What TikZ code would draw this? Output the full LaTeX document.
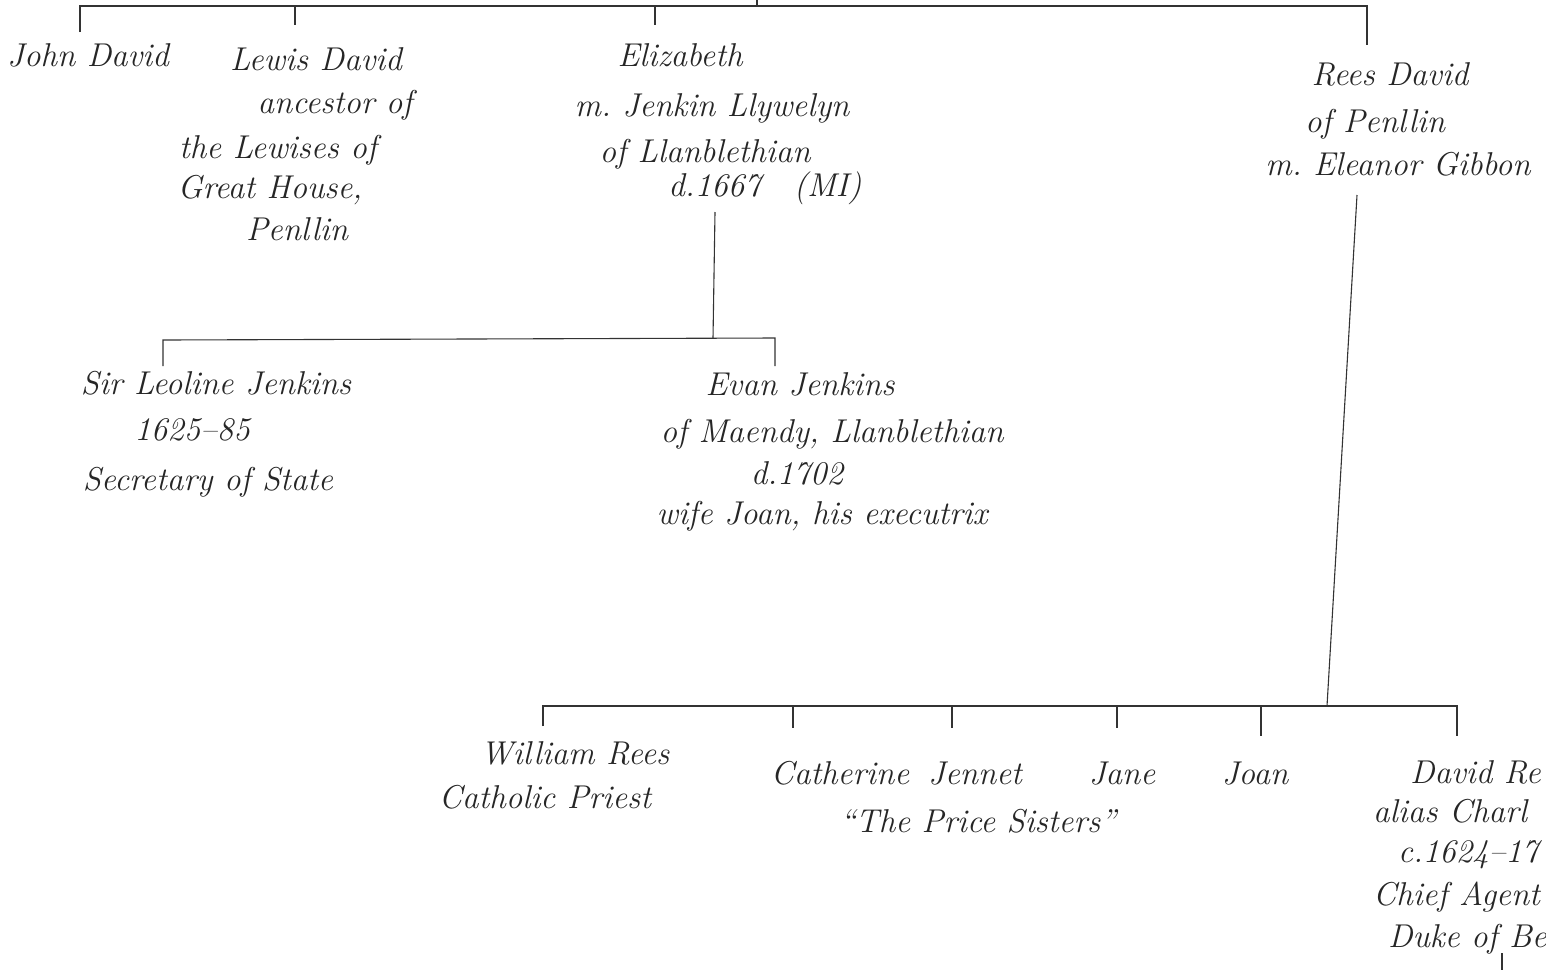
\documentclass[tikz,border=0pt]{standalone}
\usepackage{fontspec}
\begin{document}
\begin{tikzpicture}[x=1pt,y=-1pt,
  hand/.style={anchor=base, inner sep=0pt, text=black!85, font=\fontsize{33}{38}\selectfont\itshape},
  handw/.style={hand, anchor=base west},
  tree/.style={draw=black!80, line width=1.1pt}]
\useasboundingbox (0,0) rectangle (1546,970);
\fill[white] (0,0) rectangle (1546,970);

% ---- generation 1 ----
\node[hand] (john) at (88,66) {John David};
\node[hand] (lewis) at (316,70) {Lewis David};
\node[hand] (lewis2) at (335,113) {ancestor of};
\node[hand] (lewis3) at (278,158) {the Lewises of};
\node[hand] (lewis4) at (270,198) {Great House,};
\node[hand] (lewis5) at (297,240) {Penllin};
\node[hand] (eliz) at (680,66) {Elizabeth};
\node[hand] (eliz2) at (712,116) {m.\ Jenkin Llywelyn};
\node[hand] (eliz3) at (705,162) {of Llanblethian};
\node[hand] (eliz4) at (765,196) {d.1667\quad(MI)};
\node[hand] (rees) at (1390,85) {Rees David};
\node[hand] (rees2) at (1375,132) {of Penllin};
\node[hand] (rees3) at (1398,175) {m.\ Eleanor Gibbon};

% ---- generation 2 (Elizabeth) ----
\node[hand] (leol) at (216,394) {Sir Leoline Jenkins};
\node[hand] (leol2) at (192,440) {1625--85};
\node[hand] (leol3) at (208,490) {Secretary of State};
\node[hand] (evan) at (800,395) {Evan Jenkins};
\node[hand] (evan2) at (832,442) {of Maendy, Llanblethian};
\node[hand] (evan3) at (797,484) {d.1702};
\node[hand] (evan4) at (822,524) {wife Joan, his executrix};

% ---- generation 2 (Rees) ----
\node[hand] (will) at (575,764) {William Rees};
\node[hand] (will2) at (545,808) {Catholic Priest};
\node[hand] (cath) at (840,784) {Catherine};
\node[hand] (jen) at (975,784) {Jennet};
\node[hand] (jane) at (1122,784) {Jane};
\node[hand] (joan) at (1255,784) {Joan};
\node[hand] (sis) at (978,832) {``The Price Sisters''};
\node[handw] (dav) at (1410,783) {David Re};
\node[handw] (dav2) at (1373,822) {alias Charl};
\node[handw] (dav3) at (1398,862) {c.1624--17};
\node[handw] (dav4) at (1373,905) {Chief Agent};
\node[handw] (dav5) at (1388,947) {Duke of Be};

% ---- coordinates for the tree ----
\coordinate (top) at (757,0);
\coordinate (barL) at (80,6);
\coordinate (barR) at (1367,6);
\coordinate (tJohn) at (80,32);
\coordinate (bLewis) at (295,6);
\coordinate (tLewis) at (295,25);
\coordinate (bEliz) at (655,6);
\coordinate (tEliz) at (655,25);
\coordinate (bTop) at (757,6);
\coordinate (tRees) at (1367,45);

\coordinate (eDown) at (715,212);
\coordinate (eBar) at (713,338);
\coordinate (eBarL) at (163,340);
\coordinate (eBarR) at (775,338);
\coordinate (tLeol) at (163,366);
\coordinate (tEvan) at (775,366);

\coordinate (rDown) at (1357,195);
\coordinate (rBar) at (1327,706);
\coordinate (rBarL) at (543,706);
\coordinate (rBarR) at (1457,706);
\coordinate (tWill) at (543,726);
\coordinate (bCath) at (793,706);
\coordinate (tCath) at (793,728);
\coordinate (bJen) at (952,706);
\coordinate (tJen) at (952,728);
\coordinate (bJane) at (1117,706);
\coordinate (tJane) at (1117,728);
\coordinate (bJoan) at (1261,706);
\coordinate (tJoan) at (1261,736);
\coordinate (tDav) at (1457,736);
\coordinate (dBelow) at (1502,953);
\coordinate (dEnd) at (1502,970);

% ---- connectors ----
\draw[tree] (top) -- (bTop);
\draw[tree] (tJohn) -- (barL) -- (barR) -- (tRees);
\draw[tree] (bLewis) -- (tLewis);
\draw[tree] (bEliz) -- (tEliz);

\draw[tree] (eDown) -- (eBar);
\draw[tree] (tLeol) -- (eBarL) -- (eBarR) -- (tEvan);

\draw[tree] (rDown) -- (rBar);
\draw[tree] (tWill) -- (rBarL) -- (rBarR) -- (tDav);
\draw[tree] (bCath) -- (tCath);
\draw[tree] (bJen) -- (tJen);
\draw[tree] (bJane) -- (tJane);
\draw[tree] (bJoan) -- (tJoan);
\draw[tree] (dBelow) -- (dEnd);
\end{tikzpicture}
\end{document}
